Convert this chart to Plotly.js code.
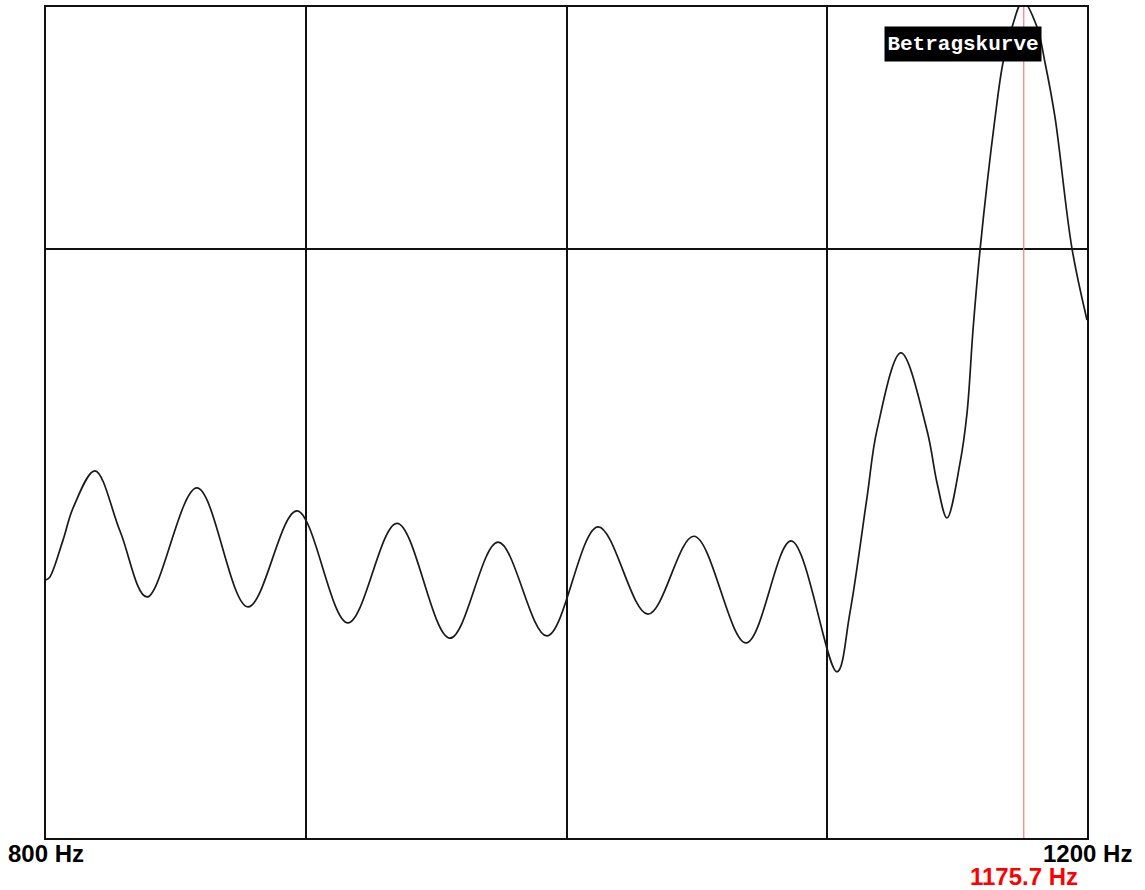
<!DOCTYPE html>
<html>
<head>
<meta charset="utf-8">
<script src="https://cdn.plot.ly/plotly-3.0.1.min.js"></script>
<style>html,body{margin:0;padding:0;background:#fff;}#chart{width:1145px;height:890px;}</style>
</head>
<body>
<div id="chart"></div>
<script>
// Frequency (Hz) and magnitude (relative units)
const freqHz = [800, 801.5, 806.5, 810.5, 818.8, 828.5, 838.8, 858.0, 877.6, 896.4, 916.0, 934.9, 955.2, 973.7, 992.5,
  1012.1, 1031.3, 1049.0, 1069.0, 1086.3, 1103.9, 1108.9, 1115.5, 1119.3, 1128.5, 1138.5, 1142.4, 1146.2,
  1151.2, 1153.9, 1156.2, 1158.9, 1164.7, 1167.7, 1171.2, 1175.4, 1180.8, 1183.9, 1187.7, 1194.2, 1200];
const magnitude = [0.438, 0.443, 0.505, 0.561, 0.623, 0.520, 0.409, 0.594, 0.392, 0.555, 0.365, 0.534, 0.339, 0.502, 0.343,
  0.528, 0.380, 0.512, 0.331, 0.504, 0.282, 0.382, 0.579, 0.692, 0.823, 0.692, 0.602, 0.543,
  0.636, 0.721, 0.862, 0.998, 1.223, 1.315, 1.376, 1.420, 1.376, 1.315, 1.223, 1.001, 0.879];

const gridTicks = [800, 900, 1000, 1100, 1200];
const edgeLabels = ['800 Hz', '1200 Hz'];
const edgeHz = [800, 1200];
const markerHz = 1175.7;
const markerLabel = '1175.7 Hz';
const curveLabel = 'Betragskurve';

const trace = {
  x: freqHz, y: magnitude, type: 'scatter', mode: 'lines',
  line: {color: '#1a1a1a', width: 1.7, shape: 'spline', smoothing: 1},
  hoverinfo: 'skip', showlegend: false
};

const labelFont = {family: 'Liberation Sans, Arial, sans-serif', size: 24, color: '#000', weight: 'bold'};

const annotations = edgeHz.map((hz, i) => ({
  xref: 'x', yref: 'paper', x: hz, y: 0, yshift: 0,
  text: edgeLabels[i], showarrow: false, xanchor: 'center', yanchor: 'top',
  font: labelFont
}));
annotations.push({
  xref: 'x', yref: 'paper', x: markerHz, y: 0, yshift: -23,
  text: markerLabel, showarrow: false, xanchor: 'center', yanchor: 'top',
  font: Object.assign({}, labelFont, {color: '#ff0000'})
});
annotations.push({
  xref: 'paper', yref: 'paper', x: 0.881, y: 0.955,
  text: curveLabel, showarrow: false, xanchor: 'center', yanchor: 'middle',
  bgcolor: '#000', borderpad: 1, width: 154, height: 32,
  font: {family: 'Liberation Mono, DejaVu Sans Mono, monospace', size: 21, color: '#fff', weight: 'bold'}
});

const layout = {
  width: 1145, height: 890,
  margin: {l: 46, r: 58, t: 7, b: 52},
  paper_bgcolor: '#ffffff', plot_bgcolor: '#ffffff',
  showlegend: false,
  xaxis: {
    range: [800, 1200], tickvals: gridTicks, showticklabels: false,
    showgrid: true, gridcolor: '#111', gridwidth: 2,
    showline: true, linecolor: '#111', linewidth: 2, mirror: true,
    zeroline: false, ticks: ''
  },
  yaxis: {
    range: [0, 1.41], tickvals: [1.0], showticklabels: false,
    showgrid: true, gridcolor: '#111', gridwidth: 2,
    showline: true, linecolor: '#111', linewidth: 2, mirror: true,
    zeroline: false, ticks: ''
  },
  shapes: [{
    type: 'line', xref: 'x', yref: 'paper', x0: markerHz, x1: markerHz, y0: 0, y1: 1,
    line: {color: '#f08080', width: 1.2}, layer: 'above'
  }],
  annotations: annotations
};

Plotly.newPlot('chart', [trace], layout, {staticPlot: true, displayModeBar: false});
</script>
</body>
</html>
